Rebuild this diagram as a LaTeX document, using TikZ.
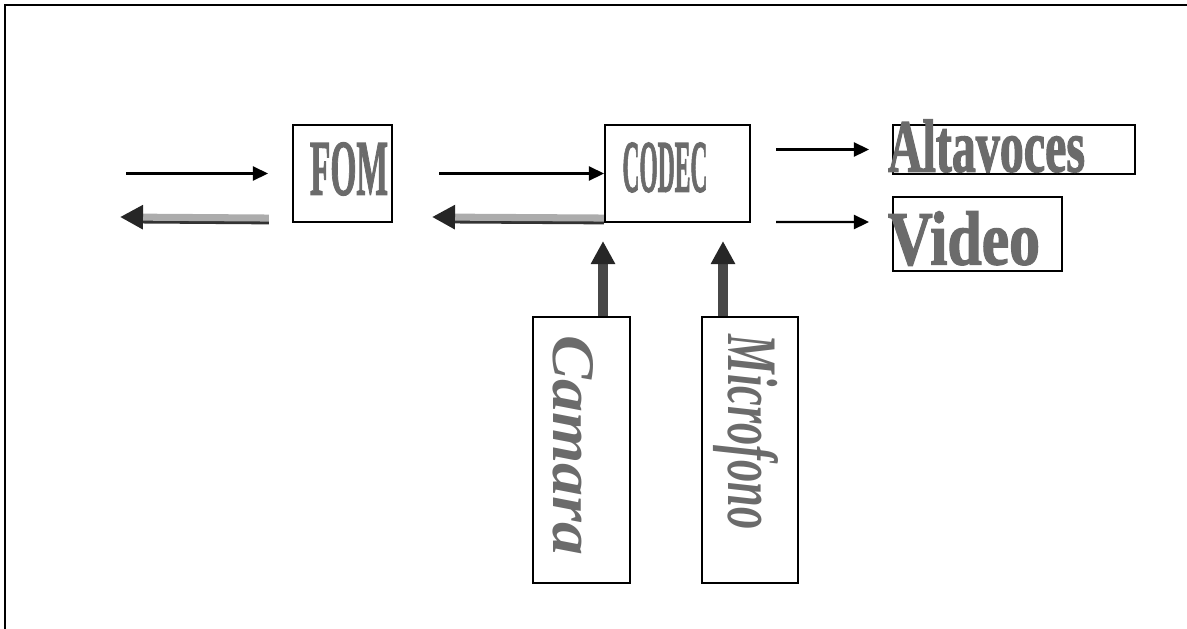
\documentclass[tikz,border=0pt]{standalone}
\usepackage{fontspec}
\setmainfont{Liberation Serif}[BoldFeatures={FakeBold=2}]
\usetikzlibrary{arrows.meta}
\begin{document}
\begin{tikzpicture}[x=0.02cm,y=0.02cm,
  blockbox/.style={draw,line width=1.2pt,inner sep=0pt},
  wordart/.style={text=black!58,inner sep=0pt,font=\bfseries},
  thinarrow/.style={line width=1.4pt,-{Triangle[length=0.3cm,width=0.28cm]}},
  backarrow/.style={line width=4pt,draw=gray!65,
    -{Triangle[length=0.46cm,width=0.46cm,fill=black!85,color=black!85]},
    preaction={arrows=-,draw=black!80,line width=4pt,shorten >=0.3cm,transform canvas={yshift=-1.6pt}}},
  uparrow/.style={line width=5.5pt,draw=black!72,-{Triangle[length=0.46cm,width=0.46cm,fill=black!85,color=black!85]}}]
\useasboundingbox (0,0) rectangle (1187,-629);
\draw[line width=1.2pt] (5,-629) -- (5,-5) -- (1187,-5);

\node[blockbox,minimum width=1.98cm,minimum height=1.94cm] (fom) at (342.5,-173.5) {};
\node[blockbox,minimum width=2.9cm,minimum height=1.94cm] (codec) at (677.5,-173.5) {};
\node[blockbox,minimum width=4.84cm,minimum height=0.98cm] (alt) at (1014,-149.5) {};
\node[blockbox,minimum width=3.38cm,minimum height=1.48cm] (video) at (977.5,-234) {};
\node[blockbox,minimum width=1.94cm,minimum height=5.32cm] (cam) at (581.5,-450) {};
\node[blockbox,minimum width=1.92cm,minimum height=5.32cm] (mic) at (750,-450) {};

\node[wordart] (fomtext) at (349,-169) {\resizebox{1.56cm}{1.04cm}{FOM}};
\node[wordart] (codectext) at (665,-167.5) {\resizebox{1.7cm}{0.98cm}{CODEC}};
\node[wordart] (alttext) at (986.5,-146) {\resizebox{3.94cm}{1.04cm}{Altavoces}};
\node[wordart] (videotext) at (964,-238.5) {\resizebox{3.04cm}{1.06cm}{Video}};
\node[wordart,rotate=-90] (camtext) at (573,-445) {\resizebox{4.4cm}{0.8cm}{\itshape Camara}};
\node[wordart,rotate=-90] (mictext) at (746,-432) {\resizebox{3.9cm}{1.0cm}{\itshape Microfono}};

\coordinate (in) at (126,-173.5);
\coordinate (out) at (120,-217);
\coordinate (back) at (432,-217);

\draw[thinarrow,shorten >=0.48cm] (in) -- (fom.west);
\draw[thinarrow] ([shift={(46,0)}]fom.east) -- (codec.west);
\draw[thinarrow] ([shift={(25,24)}]codec.east) -- ([shift={(-23,0)}]alt.west);
\draw[thinarrow] ([shift={(25,-48.5)}]codec.east) -- ([shift={(-23,12)}]video.west);

\draw[backarrow] ([shift={(-23,5)}]fom.south west) -- (out);
\draw[backarrow] ([shift={(0,5)}]codec.south west) -- (back);

\draw[uparrow] ([shift={(21.5,0)}]cam.north) -- ([shift={(-74.5,-18)}]codec.south);
\draw[uparrow] ([shift={(-27,0)}]mic.north) -- ([shift={(45.5,-18)}]codec.south);
\end{tikzpicture}
\end{document}
